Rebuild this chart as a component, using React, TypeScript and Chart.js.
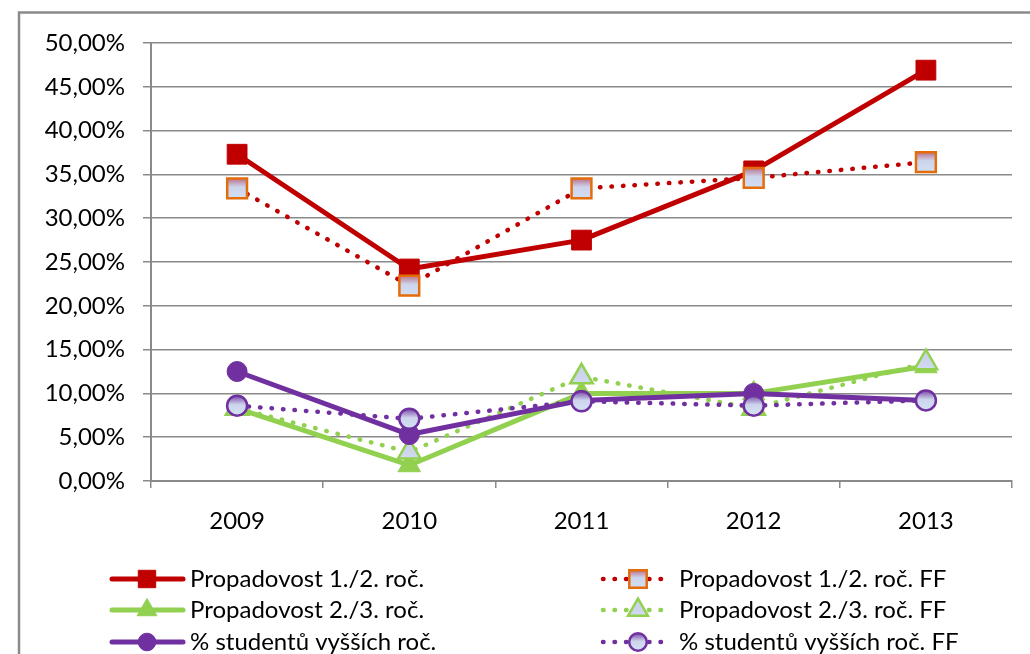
import React, { useEffect, useRef } from 'react';
import { Chart, registerables } from 'chart.js';
Chart.register(...registerables);

const years = ['2009', '2010', '2011', '2012', '2013'];
const prop12 = [37.3, 24.2, 27.5, 35.4, 46.9];
const prop12FF = [33.4, 22.3, 33.4, 34.6, 36.4];
const prop23 = [8.3, 1.8, 10.0, 10.0, 13.1];
const prop23FF = [8.3, 3.3, 11.9, 8.3, 13.5];
const vyssi = [12.5, 5.3, 9.2, 10.0, 9.2];
const vyssiFF = [8.6, 7.1, 9.1, 8.6, 9.2];
const seriesLabels = [
  'Propadovost 1./2. roč.',
  'Propadovost 1./2. roč. FF',
  'Propadovost 2./3. roč.',
  'Propadovost 2./3. roč. FF',
  '% studentů vyšších roč.',
  '% studentů vyšších roč. FF',
];
const yMin = 0;
const yMax = 50;
const yStep = 5;

const RED = '#C00000';
const ORANGE = '#E46C0A';
const GREEN = '#92D050';
const PURPLE = '#7030A0';
const GRID = '#8a8a8a';
const FONT = 'Lato, "Open Sans", sans-serif';
const FSIZE = 24;

function makeGrad(ctx: CanvasRenderingContext2D, y: number, r: number, top: string) {
  const g = ctx.createLinearGradient(0, y - r, 0, y + r);
  g.addColorStop(0, top);
  g.addColorStop(0.45, '#CDD4EC');
  g.addColorStop(1, '#D3E2F5');
  return g;
}

function gradFill(top: string, r: number) {
  return (c: any) => {
    const ch = c.chart;
    const ys = ch.scales && ch.scales.y;
    if (!ys || c.raw == null || typeof c.raw !== 'number') return '#CDD8F0';
    const y = ys.getPixelForValue(c.raw);
    if (!isFinite(y)) return '#CDD8F0';
    return makeGrad(ch.ctx, y, r, top);
  };
}

type Marker = { style: string; r: number; fill: string | null; gradTop: string | null; stroke: string; lw: number };

function drawMarker(ctx: CanvasRenderingContext2D, m: Marker, x: number, y: number, scale: number) {
  const r = m.r * scale;
  ctx.save();
  ctx.beginPath();
  if (m.style === 'rect') {
    const s = Math.SQRT1_2 * r;
    ctx.rect(x - s, y - s, 2 * s, 2 * s);
  } else if (m.style === 'triangle') {
    let rad = 0;
    ctx.moveTo(x + Math.sin(rad) * r, y - Math.cos(rad) * r);
    rad += (2 * Math.PI) / 3;
    ctx.lineTo(x + Math.sin(rad) * r, y - Math.cos(rad) * r);
    rad += (2 * Math.PI) / 3;
    ctx.lineTo(x + Math.sin(rad) * r, y - Math.cos(rad) * r);
    ctx.closePath();
  } else {
    ctx.arc(x, y, r, 0, Math.PI * 2);
  }
  ctx.fillStyle = m.gradTop ? makeGrad(ctx, y, r, m.gradTop) : (m.fill as string);
  ctx.fill();
  ctx.lineWidth = m.lw;
  ctx.strokeStyle = m.stroke;
  ctx.stroke();
  ctx.restore();
}

const markers: Marker[] = [
  { style: 'rect', r: 14, fill: RED, gradTop: null, stroke: RED, lw: 1 },
  { style: 'rect', r: 14, fill: null, gradTop: '#B0405A', stroke: ORANGE, lw: 2.5 },
  { style: 'triangle', r: 13, fill: GREEN, gradTop: null, stroke: GREEN, lw: 1 },
  { style: 'triangle', r: 13, fill: null, gradTop: '#C8D2EE', stroke: GREEN, lw: 2.5 },
  { style: 'circle', r: 10, fill: PURPLE, gradTop: null, stroke: PURPLE, lw: 1 },
  { style: 'circle', r: 10, fill: null, gradTop: '#7A48A8', stroke: PURPLE, lw: 2.5 },
];
const lineColors = [RED, RED, GREEN, GREEN, PURPLE, PURPLE];
const seriesData = [prop12, prop12FF, prop23, prop23FF, vyssi, vyssiFF];

const framePlugin = {
  id: 'frame',
  beforeDraw(chart: any) {
    const ctx = chart.ctx;
    ctx.save();
    ctx.fillStyle = '#ffffff';
    ctx.fillRect(0, 0, chart.width, chart.height);
    ctx.strokeStyle = GRID;
    ctx.lineWidth = 2.5;
    ctx.strokeRect(19, 12.5, 1200, 800);
    ctx.restore();
  },
};

const legendPlugin = {
  id: 'customLegend',
  afterDraw(chart: any) {
    const ctx = chart.ctx as CanvasRenderingContext2D;
    const rows = [579, 610, 642];
    const cols = [
      { x0: 112, x1: 183, mx: 147, tx: 190 },
      { x0: 603, x1: 668, mx: 638, tx: 679 },
    ];
    chart.data.datasets.forEach((ds: any, i: number) => {
      const col = cols[i % 2];
      const y = rows[Math.floor(i / 2)];
      ctx.save();
      ctx.beginPath();
      ctx.strokeStyle = ds.borderColor;
      ctx.lineWidth = ds.borderWidth;
      ctx.lineCap = 'round';
      ctx.setLineDash(ds.borderDash || []);
      ctx.moveTo(col.x0, y);
      ctx.lineTo(col.x1, y);
      ctx.stroke();
      ctx.restore();
      drawMarker(ctx, markers[i], col.mx, y, 0.88);
      ctx.save();
      ctx.fillStyle = '#000';
      ctx.font = `${FSIZE}px ${FONT}`;
      ctx.textBaseline = 'middle';
      ctx.textAlign = 'left';
      ctx.fillText(ds.label, col.tx, y);
      ctx.restore();
    });
  },
};

export default function App() {
  const ref = useRef<HTMLCanvasElement>(null);
  useEffect(() => {
    if (!ref.current) return;
    const datasets = seriesData.map((d, i) => {
      const ff = i % 2 === 1;
      const m = markers[i];
      return {
        label: seriesLabels[i],
        data: d,
        order: 5 - i,
        borderColor: lineColors[i],
        backgroundColor: lineColors[i],
        borderWidth: ff ? 4.5 : 5,
        borderDash: ff ? [0.5, 11] : [],
        borderCapStyle: 'round' as const,
        borderJoinStyle: 'round' as const,
        tension: 0,
        fill: false,
        pointStyle: m.style,
        pointRadius: m.r,
        pointHoverRadius: m.r,
        pointBorderWidth: m.lw,
        pointBorderColor: m.stroke,
        pointBackgroundColor: m.gradTop ? gradFill(m.gradTop, m.r) : m.fill,
      };
    });
    const chart = new Chart(ref.current, {
      type: 'line',
      data: { labels: years, datasets: datasets as any },
      options: {
        animation: false,
        responsive: false,
        events: [],
        layout: { padding: { left: 0, top: 43, right: 18, bottom: 113 } },
        plugins: { legend: { display: false }, tooltip: { enabled: false } },
        scales: {
          x: {
            offset: true,
            grid: { offset: true, drawOnChartArea: false, drawTicks: true, tickLength: 7, color: GRID, lineWidth: 1.5 },
            border: { display: true, color: GRID, width: 2 },
            ticks: { color: '#000', font: { family: FONT, size: FSIZE }, padding: 19, maxRotation: 0 },
            afterFit: (s: any) => { s.height = 60; },
          },
          y: {
            min: yMin,
            max: yMax,
            grid: { color: GRID, lineWidth: 1.5, tickLength: 8, drawTicks: true },
            border: { display: true, color: GRID, width: 2 },
            ticks: {
              stepSize: yStep,
              color: '#000',
              font: { family: FONT, size: FSIZE },
              padding: 18,
              callback: (v: any) => Number(v).toFixed(2).replace('.', ',') + '%',
            },
            afterFit: (s: any) => { s.width = 151; },
          },
        },
      },
      plugins: [framePlugin, legendPlugin],
    });
    return () => chart.destroy();
  }, []);
  return (
    <div style={{ position: 'fixed', left: 0, top: 0, width: 1030, height: 654 }}>
      <canvas ref={ref} width={1030} height={654} style={{ display: 'block', width: 1030, height: 654 }} />
    </div>
  );
}
